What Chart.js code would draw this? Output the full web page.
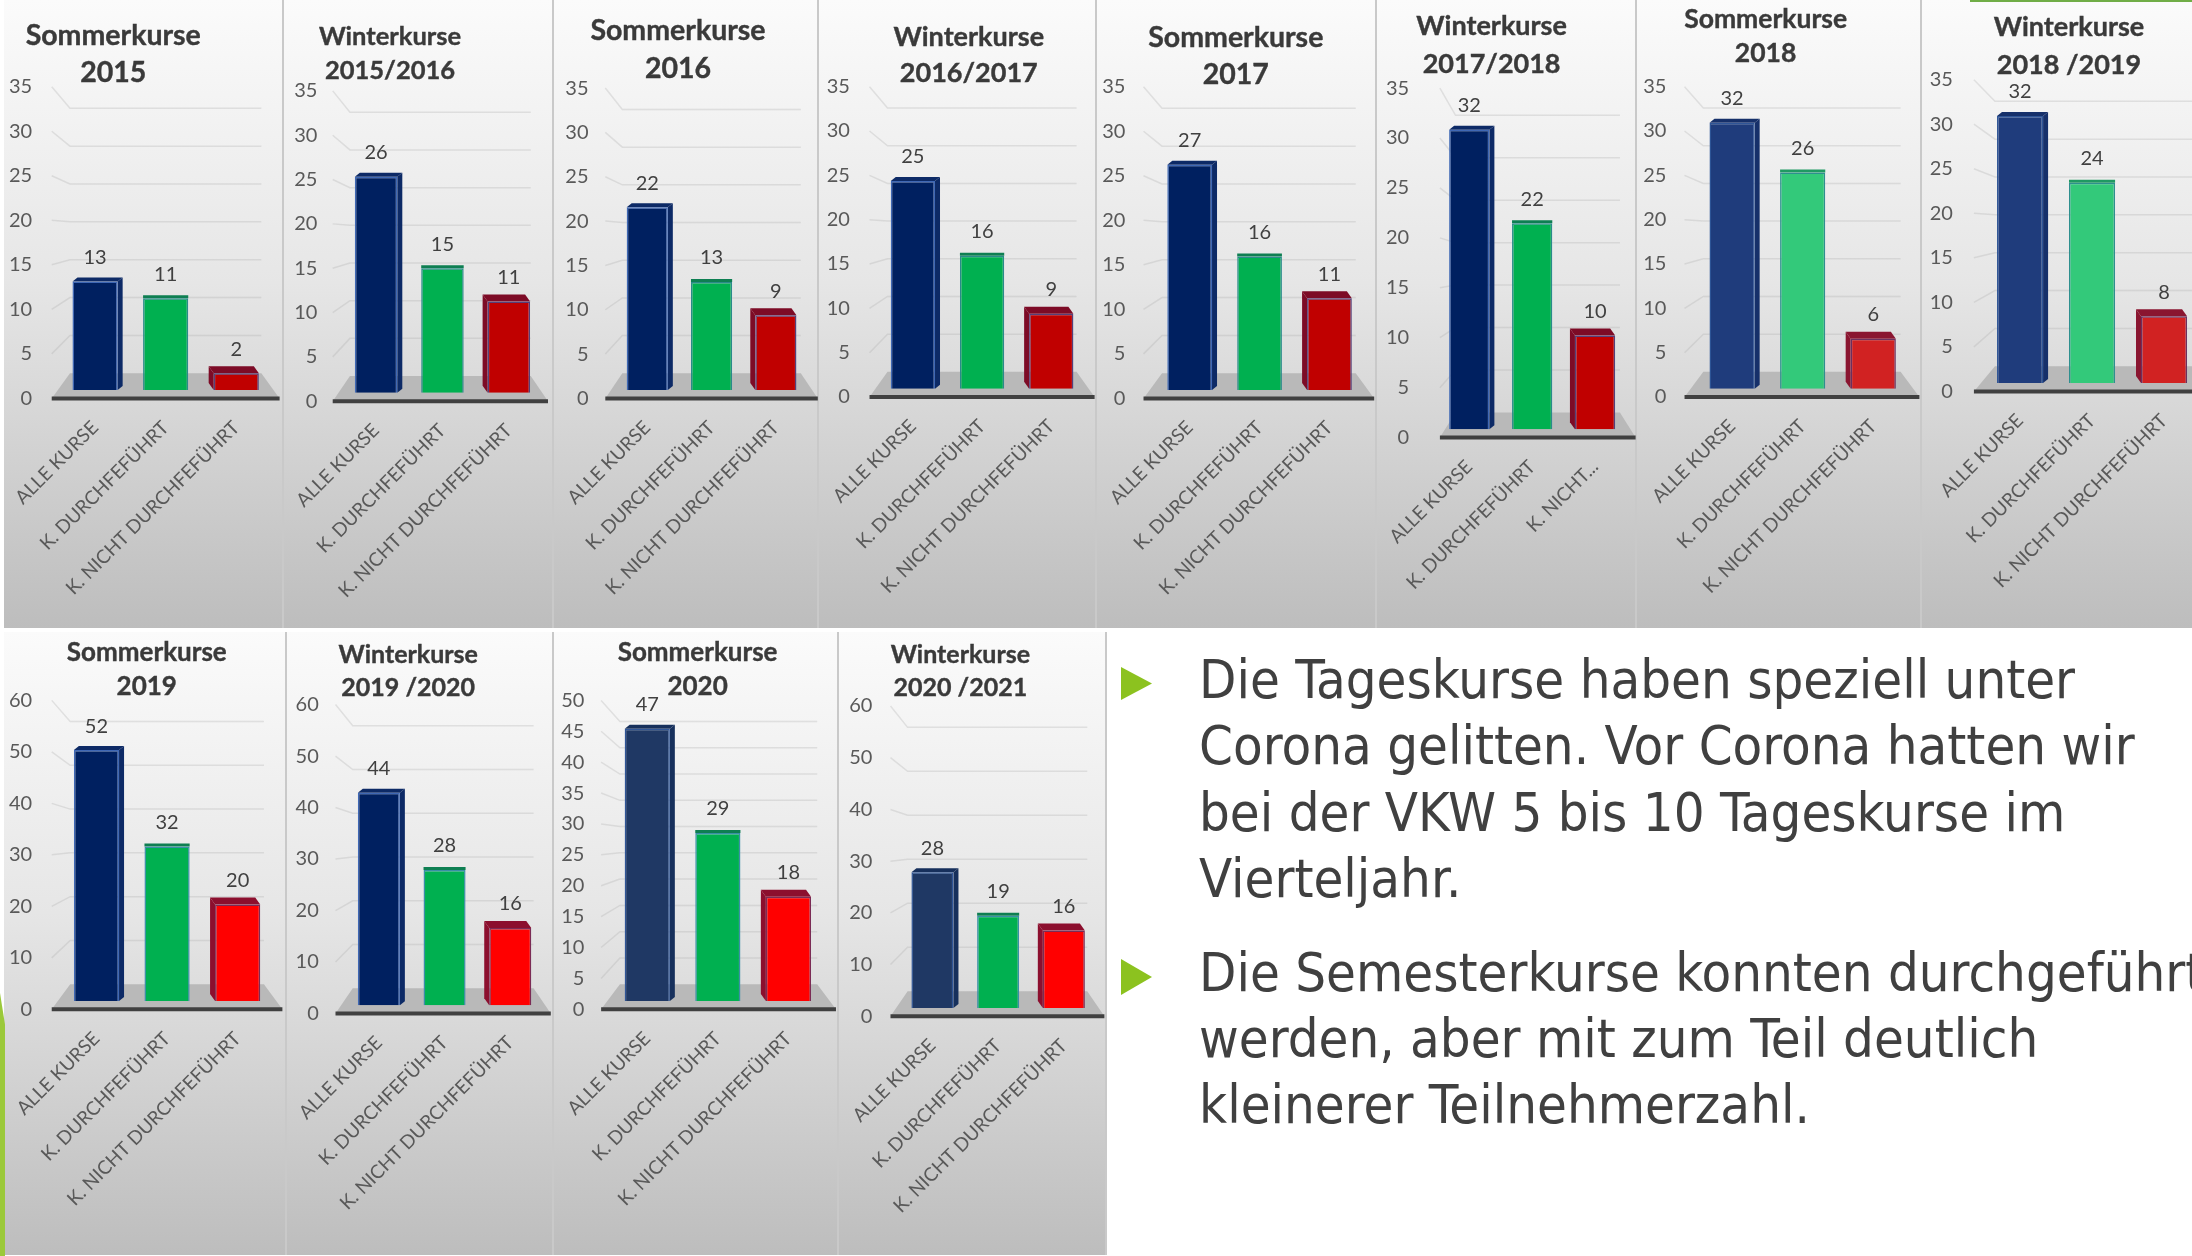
<!DOCTYPE html>
<html lang="de">
<head>
<meta charset="utf-8">
<title>Kurse</title>
<script src="https://cdn.jsdelivr.net/npm/chart.js@4"></script>
<style>
    html, body { margin: 0; padding: 0; width: 2192px; height: 1256px; overflow: hidden; background: #fff; }
    .panel { position: absolute; background: linear-gradient(#fbfbfb 0%, #e6e6e6 45%, #bdbdbd 100%); box-shadow: inset -2px 0 0 #c9c9c9; }
    canvas { position: absolute; left: 0; top: 0; }
    .title { position: absolute; transform: translate(-50%, -50%); font: bold 27px Lato, sans-serif; color: #3a3a3a; white-space: nowrap; -webkit-text-stroke: 0.4px #3a3a3a; }
    #notes { position: absolute; left: 1199px; top: 647px; width: 993px; overflow: hidden; font: 54px/66.4px "DejaVu Sans Condensed", "DejaVu Sans", sans-serif; font-stretch: condensed; color: #404040; white-space: nowrap; }
    #notes p { margin: 0 0 27px 0; }
    .bullet { position: absolute; background: #8cc21f; clip-path: polygon(0 0, 100% 50%, 0 100%); }
</style>
</head>
<body>
<script>
// chart values, one entry per half year
const panelTitles = ['Sommerkurse', 'Winterkurse', 'Sommerkurse', 'Winterkurse', 'Sommerkurse', 'Winterkurse',
    'Sommerkurse', 'Winterkurse', 'Sommerkurse', 'Winterkurse', 'Sommerkurse', 'Winterkurse'];
const panelYears = ['2015', '2015/2016', '2016', '2016/2017', '2017', '2017/2018',
    '2018', '2018 /2019', '2019', '2019 /2020', '2020', '2020 /2021'];
const categories = ['ALLE KURSE', 'K. DURCHFEFÜHRT', 'K. NICHT DURCHFEFÜHRT'];
const categoriesShort = ['ALLE KURSE', 'K. DURCHFEFÜHRT', 'K. NICHT...'];
const alleKurse = [13, 26, 22, 25, 27, 32, 32, 32, 52, 44, 47, 28];
const durchgefuehrt = [11, 15, 13, 16, 16, 22, 26, 24, 32, 28, 29, 19];
const nichtDurchgefuehrt = [2, 11, 9, 9, 11, 10, 6, 8, 20, 16, 18, 16];
const axisMax = [35, 35, 35, 35, 35, 35, 35, 35, 60, 60, 50, 60];
const axisStep = [5, 5, 5, 5, 5, 5, 5, 5, 10, 10, 5, 10];

// layout in units of the 1568 wide thumbnail, scaled up by S
const S = 2192 / 1568;
// [panelLeft, panelRight, rowTop, rowBottom, yTop, yZero, firstCenter, lastCenter, axisLeft, axisRight, labelRight, titleX, titleY1, titleY2, titleSize]
const layouts = [
    [3, 203, 0, 449, 62, 285, 68, 169, 37, 200, 23, 81, 24, 51, 28.5],
    [203, 396, 0, 449, 65, 287, 269, 364, 238, 392, 227, 279, 25, 49, 25.5],
    [396, 586, 0, 449, 63, 285, 463, 555, 433, 585, 421, 485, 21, 48, 28.5],
    [586, 785, 0, 449, 62, 284, 653, 752, 622, 783, 608, 693, 25, 51, 27],
    [785, 985, 0, 449, 62, 285, 851, 951, 818, 983, 805, 884, 26, 52, 28.5],
    [985, 1171, 0, 449, 63, 313, 1051, 1141, 1030, 1170, 1008, 1067, 17, 44, 27],
    [1171, 1375, 0, 449, 62, 284, 1239, 1340, 1205, 1373, 1192, 1263, 13, 37, 26.5],
    [1375, 1600, 0, 449, 57, 280, 1445, 1548, 1412, 1600, 1397, 1480, 18, 45, 27],
    [3, 205, 452, 898, 501, 722, 69, 170, 37, 202, 23, 105, 466, 490, 26],
    [205, 396, 452, 898, 504, 725, 271, 365, 240, 394, 228, 292, 467, 491, 25],
    [396, 600, 452, 898, 501, 722, 463, 564, 430, 598, 418, 499, 466, 490, 26],
    [600, 792, 452, 898, 505, 727, 667, 761, 637, 790, 624, 687, 467, 491, 25],
];

const palettes = {
    deep: { face: ['#002060', '#00b050', '#c00000'], edge: ['#3f68b5', '#2b8a8a', '#54407a'], shade: ['#0d2a66', '#0e7f52', '#7d0b26'] },
    faded: { face: ['#1f3c7c', '#33c97a', '#d12222'], edge: ['#2f5597', '#2e8f8f', '#6a3060'], shade: ['#16306a', '#1f9a62', '#8a1530'] },
    bright: { face: ['#002060', '#00b050', '#ff0000'], edge: ['#3f68b5', '#3a8ea8', '#7a2b55'], shade: ['#0d2a66', '#0e7f52', '#8c0f2e'] },
    slate: { face: ['#1f3864', '#00b050', '#ff0000'], edge: ['#2f5597', '#3a8ea8', '#7a2b55'], shade: ['#17305c', '#0e7f52', '#8c0f2e'] },
};
const panelPalette = ['deep', 'deep', 'deep', 'deep', 'deep', 'deep', 'faded', 'faded', 'bright', 'bright', 'slate', 'slate'];

const FLOOR_DEPTH = 18 * S;
const BACK_RATIO = 0.85;
const BAR_LIFT = 6 * S;
const BAR_RATIO = 0.937;
const TEXT_FONT = 'Lato, sans-serif';

// floor, receding grid lines and side faces, the bars themselves come from the bar controller
const depthPlugin = {
    id: 'depthPlugin',
    beforeDatasetsDraw(chart, args, opts) {
        const { ctx } = chart;
        const yScale = chart.scales.y;
        const zero = yScale.getPixelForValue(0);
        const inset = (opts.axisRight - opts.axisLeft) * 0.08;
        const backLeft = opts.axisLeft + inset;
        const backRight = opts.axisRight - inset;
        const floorTop = zero - FLOOR_DEPTH;

        ctx.save();
        ctx.strokeStyle = 'rgba(170, 170, 170, 0.28)';
        ctx.lineWidth = 1.5;
        yScale.ticks.forEach((tick) => {
            if (tick.value === 0) {
                return;
            }
            const front = yScale.getPixelForValue(tick.value);
            const back = floorTop + (front - zero) * BACK_RATIO;
            ctx.beginPath();
            ctx.moveTo(opts.axisLeft, front);
            ctx.lineTo(backLeft, back);
            ctx.lineTo(backRight, back);
            ctx.stroke();
        });

        ctx.fillStyle = '#b9b9b9';
        ctx.beginPath();
        ctx.moveTo(opts.axisLeft, zero);
        ctx.lineTo(backLeft, floorTop);
        ctx.lineTo(backRight, floorTop);
        ctx.lineTo(opts.axisRight, zero);
        ctx.closePath();
        ctx.fill();

        ctx.strokeStyle = '#404040';
        ctx.lineWidth = 4;
        ctx.beginPath();
        ctx.moveTo(opts.axisLeft, zero);
        ctx.lineTo(opts.axisRight, zero);
        ctx.stroke();

        const sideShift = [5, 0, -5];
        const topRise = [4, 3, 7];
        chart.getDatasetMeta(0).data.forEach((bar, i) => {
            const halfWidth = bar.width / 2;
            const nearEdge = sideShift[i] < 0 ? bar.x - halfWidth : bar.x + halfWidth;
            ctx.fillStyle = opts.shade[i];
            ctx.beginPath();
            ctx.moveTo(bar.x - halfWidth, bar.y);
            ctx.lineTo(bar.x - halfWidth + sideShift[i], bar.y - topRise[i]);
            ctx.lineTo(bar.x + halfWidth + sideShift[i], bar.y - topRise[i]);
            ctx.lineTo(bar.x + halfWidth, bar.y);
            ctx.closePath();
            ctx.fill();
            ctx.beginPath();
            ctx.moveTo(nearEdge, bar.y);
            ctx.lineTo(nearEdge + sideShift[i], bar.y - topRise[i]);
            ctx.lineTo(nearEdge + sideShift[i], bar.base - topRise[i]);
            ctx.lineTo(nearEdge, bar.base);
            ctx.closePath();
            ctx.fill();
        });
        ctx.restore();
    },
    afterDatasetsDraw(chart) {
        const { ctx } = chart;
        ctx.save();
        ctx.fillStyle = '#404040';
        ctx.font = `20px ${TEXT_FONT}`;
        ctx.textAlign = 'center';
        ctx.textBaseline = 'bottom';
        const values = chart.data.datasets[0].data;
        chart.getDatasetMeta(0).data.forEach((bar, i) => {
            ctx.fillText(String(values[i]), bar.x, bar.y - 14);
        });
        ctx.restore();
    },
};

function addPanel(i) {
    const [panelLeft, panelRight, rowTop, rowBottom, yTop, yZero, firstCenter, lastCenter, axisLeft, axisRight, labelRight, titleX, titleY1, titleY2, titleSize] = layouts[i];
    const left = Math.round(panelLeft * S);
    const top = Math.round(rowTop * S);
    const width = Math.round(panelRight * S) - left;
    const height = Math.round(rowBottom * S) - top;

    const panel = document.createElement('div');
    panel.className = 'panel';
    panel.style.cssText = `left:${left}px;top:${top}px;width:${width}px;height:${height}px`;
    document.body.appendChild(panel);

    const canvas = document.createElement('canvas');
    canvas.width = width;
    canvas.height = height;
    panel.appendChild(canvas);

    [[panelTitles[i], titleY1], [panelYears[i], titleY2]].forEach(([text, y]) => {
        const line = document.createElement('div');
        line.className = 'title';
        line.textContent = text;
        line.style.cssText = `left:${titleX * S - left}px;top:${y * S - top}px;font-size:${titleSize}px`;
        panel.appendChild(line);
    });

    const slot = (lastCenter - firstCenter) / 2;
    const plotLeft = (firstCenter - slot / 2) * S - left;
    const plotRight = (lastCenter + slot / 2) * S - left;
    const plotTop = yTop * S - top;
    const plotBottom = yZero * S - top;
    const plotHeight = plotBottom - plotTop;

    // bars stand a little behind the front edge of the floor, so they get their own hidden axis
    const barSpan = axisMax[i] / BAR_RATIO;
    const barMin = -BAR_LIFT * barSpan / plotHeight;
    const pal = palettes[panelPalette[i]];

    new Chart(canvas, {
        type: 'bar',
        data: {
            labels: i === 5 ? categoriesShort : categories,
            datasets: [{
                data: [alleKurse[i], durchgefuehrt[i], nichtDurchgefuehrt[i]],
                yAxisID: 'bars',
                backgroundColor: pal.face,
                borderColor: pal.edge,
                borderWidth: 1.5,
                categoryPercentage: 1,
                barPercentage: 0.64,
            }],
        },
        options: {
            responsive: false,
            animation: false,
            layout: { padding: { top: plotTop, right: width - plotRight, left: 0, bottom: 0 } },
            plugins: {
                legend: { display: false },
                title: { display: false },
                tooltip: { enabled: false },
                depthPlugin: {
                    axisLeft: axisLeft * S - left,
                    axisRight: axisRight * S - left,
                    shade: pal.shade,
                },
            },
            scales: {
                x: {
                    grid: { display: false },
                    border: { display: false },
                    ticks: {
                        autoSkip: false,
                        minRotation: 45,
                        maxRotation: 45,
                        color: '#595959',
                        padding: 10,
                        labelOffset: 0,
                        font: { family: TEXT_FONT, size: 19 },
                    },
                    afterFit(scale) {
                        scale.height = height - plotBottom;
                        scale.paddingLeft = 0;
                        scale.paddingRight = 0;
                    },
                },
                y: {
                    min: 0,
                    max: axisMax[i],
                    grid: { display: false, drawTicks: false },
                    border: { display: false },
                    ticks: {
                        stepSize: axisStep[i],
                        color: '#595959',
                        padding: plotLeft - (labelRight * S - left),
                        font: { family: TEXT_FONT, size: 20 },
                    },
                    afterFit(scale) {
                        scale.width = plotLeft;
                        scale.paddingTop = 0;
                        scale.paddingBottom = 0;
                    },
                },
                bars: {
                    display: false,
                    min: barMin,
                    max: barMin + barSpan,
                },
            },
        },
        plugins: [depthPlugin],
    });
}

layouts.forEach((_, i) => addPanel(i));
</script>

<div id="notes">
    <p>Die Tageskurse haben speziell unter<br>Corona gelitten. Vor Corona hatten wir<br>bei der VKW 5 bis 10 Tageskurse im<br>Vierteljahr.</p>
    <p>Die Semesterkurse konnten durchgeführt<br>werden, aber mit zum Teil deutlich<br>kleinerer Teilnehmerzahl.</p>
</div>
<div class="bullet" style="left:1121px;top:667px;width:31px;height:33px"></div>
<div class="bullet" style="left:1121px;top:959px;width:31px;height:36px"></div>
<div style="position:absolute;left:1970px;top:0;width:222px;height:2px;background:#70ad47"></div>
<div style="position:absolute;left:0;top:993px;width:5px;height:263px;background:#9bc93a;clip-path:polygon(0 0,100% 12%,100% 100%,0 100%)"></div>
</body>
</html>
